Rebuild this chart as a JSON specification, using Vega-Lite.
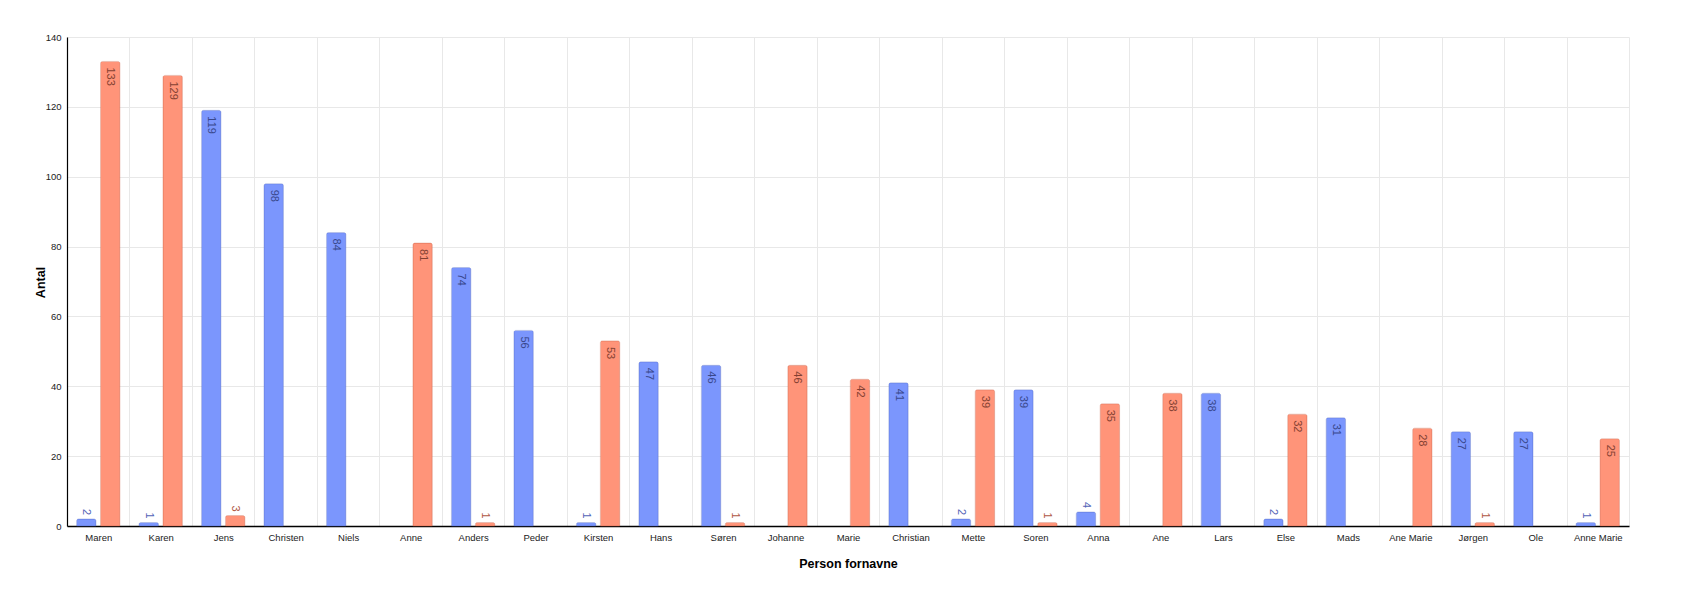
{
  "$schema": "https://vega.github.io/schema/vega-lite/v6.json",
  "autosize": "none",
  "padding": {"left": 67, "top": 37, "right": 65, "bottom": 75},
  "width": 1562,
  "height": 489,
  "background": "white",
  "config": {
    "font": "Liberation Sans",
    "view": {"stroke": null},
    "axis": {"labelFont": "Liberation Sans", "titleFont": "Liberation Sans"}
  },
  "data": {
    "values": [
      {"navn": "Maren", "køn": "M", "antal": 2},
      {"navn": "Maren", "køn": "K", "antal": 133},
      {"navn": "Karen", "køn": "M", "antal": 1},
      {"navn": "Karen", "køn": "K", "antal": 129},
      {"navn": "Jens", "køn": "M", "antal": 119},
      {"navn": "Jens", "køn": "K", "antal": 3},
      {"navn": "Christen", "køn": "M", "antal": 98},
      {"navn": "Niels", "køn": "M", "antal": 84},
      {"navn": "Anne", "køn": "K", "antal": 81},
      {"navn": "Anders", "køn": "M", "antal": 74},
      {"navn": "Anders", "køn": "K", "antal": 1},
      {"navn": "Peder", "køn": "M", "antal": 56},
      {"navn": "Kirsten", "køn": "M", "antal": 1},
      {"navn": "Kirsten", "køn": "K", "antal": 53},
      {"navn": "Hans", "køn": "M", "antal": 47},
      {"navn": "Søren", "køn": "M", "antal": 46},
      {"navn": "Søren", "køn": "K", "antal": 1},
      {"navn": "Johanne", "køn": "K", "antal": 46},
      {"navn": "Marie", "køn": "K", "antal": 42},
      {"navn": "Christian", "køn": "M", "antal": 41},
      {"navn": "Mette", "køn": "M", "antal": 2},
      {"navn": "Mette", "køn": "K", "antal": 39},
      {"navn": "Soren", "køn": "M", "antal": 39},
      {"navn": "Soren", "køn": "K", "antal": 1},
      {"navn": "Anna", "køn": "M", "antal": 4},
      {"navn": "Anna", "køn": "K", "antal": 35},
      {"navn": "Ane", "køn": "K", "antal": 38},
      {"navn": "Lars", "køn": "M", "antal": 38},
      {"navn": "Else", "køn": "M", "antal": 2},
      {"navn": "Else", "køn": "K", "antal": 32},
      {"navn": "Mads", "køn": "M", "antal": 31},
      {"navn": "Ane Marie", "køn": "K", "antal": 28},
      {"navn": "Jørgen", "køn": "M", "antal": 27},
      {"navn": "Jørgen", "køn": "K", "antal": 1},
      {"navn": "Ole", "køn": "M", "antal": 27},
      {"navn": "Anne Marie", "køn": "M", "antal": 1},
      {"navn": "Anne Marie", "køn": "K", "antal": 25}
    ]
  },
  "encoding": {
    "x": {
      "field": "navn",
      "type": "nominal",
      "sort": null,
      "scale": {"paddingInner": 0, "paddingOuter": 0},
      "axis": {
        "title": "Person fornavne",
        "titleFontSize": 12.5,
        "titleFontWeight": "bold",
        "titleColor": "#000",
        "titleY": 37,
        "titleBaseline": "middle",
        "labelAngle": 0,
        "labelFontSize": 9.5,
        "labelColor": "#222",
        "labelPadding": 6,
        "ticks": false,
        "tickBand": "extent",
        "grid": true,
        "gridColor": "#e8e8e8",
        "domainColor": "#000",
        "domainWidth": 1.5,
        "zindex": 0
      }
    },
    "xOffset": {
      "field": "køn",
      "type": "nominal",
      "sort": ["M", "K"],
      "scale": {"paddingInner": 0.19, "paddingOuter": 0.4}
    },
    "y": {
      "field": "antal",
      "type": "quantitative",
      "scale": {"domain": [0, 140], "nice": false},
      "axis": {
        "title": "Antal",
        "titleFontSize": 12.5,
        "titleFontWeight": "bold",
        "titleColor": "#000",
        "titleX": -27,
        "titleY": 245,
        "titleAngle": -90,
        "titleAlign": "center",
        "titleBaseline": "middle",
        "values": [0, 20, 40, 60, 80, 100, 120, 140],
        "labelFontSize": 9.5,
        "labelColor": "#222",
        "labelPadding": 6,
        "ticks": false,
        "grid": true,
        "gridColor": "#e8e8e8",
        "domainColor": "#000",
        "domainWidth": 1.2
      }
    }
  },
  "resolve": {"scale": {"color": "independent", "stroke": "independent"}},
  "layer": [
    {
      "mark": {
        "type": "bar",
        "cornerRadiusTopLeft": 2,
        "cornerRadiusTopRight": 2,
        "strokeWidth": 1,
        "strokeOpacity": 0.35
      },
      "encoding": {
        "color": {
          "field": "køn",
          "type": "nominal",
          "scale": {"domain": ["M", "K"], "range": ["#7b96fd", "#ff9479"]},
          "legend": null
        },
        "stroke": {
          "field": "køn",
          "type": "nominal",
          "scale": {"domain": ["M", "K"], "range": ["#5a70c8", "#d06a50"]},
          "legend": null
        }
      }
    },
    {
      "transform": [{"filter": "datum.antal >= 10"}],
      "mark": {
        "type": "text",
        "angle": 90,
        "align": "left",
        "baseline": "middle",
        "dx": 6,
        "fontSize": 11,
        "opacity": 0.85
      },
      "encoding": {
        "text": {"field": "antal", "type": "quantitative"},
        "color": {
          "field": "køn",
          "type": "nominal",
          "scale": {"domain": ["M", "K"], "range": ["#2e3a78", "#6e3226"]},
          "legend": null
        }
      }
    },
    {
      "transform": [{"filter": "datum.antal < 10"}],
      "mark": {
        "type": "text",
        "angle": 90,
        "align": "right",
        "baseline": "middle",
        "dx": -4,
        "fontSize": 11,
        "opacity": 0.9
      },
      "encoding": {
        "text": {"field": "antal", "type": "quantitative"},
        "color": {
          "field": "køn",
          "type": "nominal",
          "scale": {"domain": ["M", "K"], "range": ["#3f52b0", "#a8462e"]},
          "legend": null
        }
      }
    }
  ]
}
